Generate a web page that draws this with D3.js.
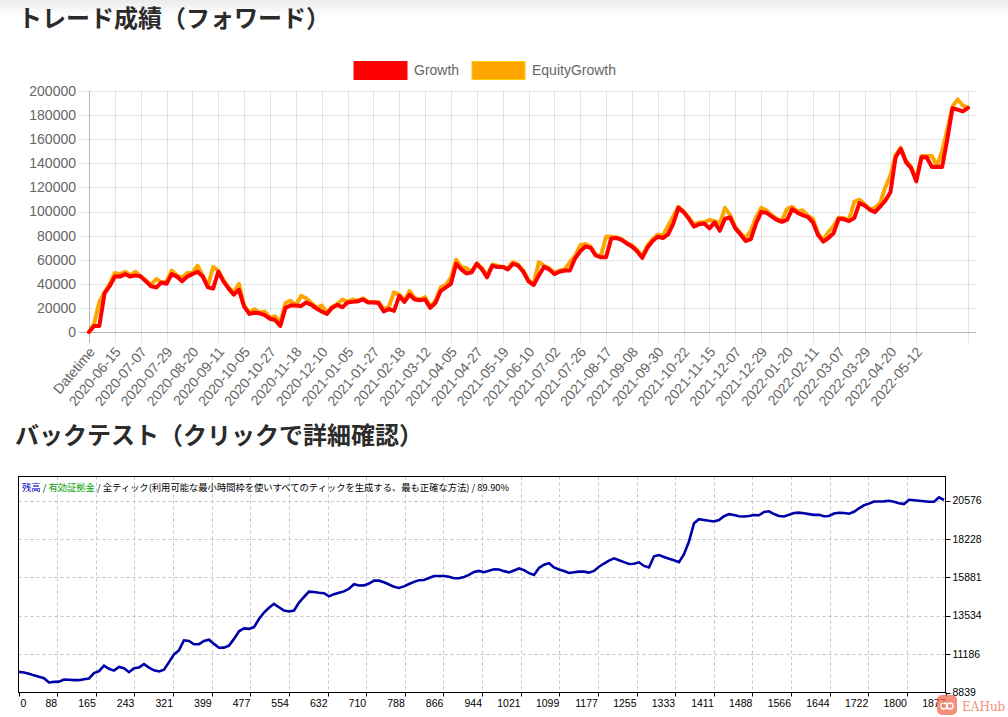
<!DOCTYPE html>
<html><head><meta charset="utf-8">
<script src="https://cdn.jsdelivr.net/npm/d3@7"></script>
<style>body{margin:0;background:#fff;overflow:hidden}svg{display:block}</style>
</head><body>
<svg id="c" width="1008" height="717"></svg>
<script>
// ---------- Forward chart data ----------
const forwardLabels = ["Datetime","2020-06-15","2020-07-07","2020-07-29","2020-08-20","2020-09-11","2020-10-05","2020-10-27","2020-11-18","2020-12-10","2021-01-05","2021-01-27","2021-02-18","2021-03-12","2021-04-05","2021-04-27","2021-05-19","2021-06-10","2021-07-02","2021-07-26","2021-08-17","2021-09-08","2021-09-30","2021-10-22","2021-11-15","2021-12-07","2021-12-29","2022-01-20","2022-02-11","2022-03-07","2022-03-29","2022-04-20","2022-05-12"];
const seriesNames = ["Growth","EquityGrowth"];
const seriesColors = ["#ff0000","#ffa500"];
const growthTicks = [0,20000,40000,60000,80000,100000,120000,140000,160000,180000,200000];
const growth = [
0,5000,5000,32000,38000,46000,46000,48000,46000,47000,
46000,42000,38000,37000,41000,40000,48000,46000,42000,46000,
48000,50000,46000,37000,36000,50000,42000,36000,31000,35000,
21000,15000,16000,15500,14000,11000,10000,5000,20000,22000,
22000,21500,24500,22500,19500,17000,15000,20000,22500,20500,
24500,25000,25500,27000,24500,24500,24000,17000,19000,17500,
30000,25000,31000,27000,26400,27000,20000,24000,34000,37000,
40000,56600,52000,48500,49500,56600,52000,45400,55000,54000,
54000,52000,56600,55000,50000,42000,39000,47000,54000,52000,
48000,50000,51000,51000,61000,67000,71000,70000,63500,62000,
62000,77700,78000,76500,73500,71000,67000,61500,70000,75500,
79000,78000,81000,90000,103000,99500,94000,87500,89500,90000,
86000,91000,84000,94000,95000,86000,81000,75500,77000,90000,
99500,99000,96000,93000,91500,93000,102000,99000,97000,95500,
91000,80500,75000,78000,82000,94000,93500,92000,94500,107000,
105000,101500,99500,104000,109000,116000,145000,152000,141000,136000,
125000,145000,145000,137000,137200,137000,160000,185700,184500,183000,
186000];
const equityGrowth = [
0,7000,25000,33000,40000,49000,48000,50000,47000,50000,
46000,43000,39000,44000,41000,42000,51000,47000,45000,49000,
49000,55000,47000,38000,54000,51000,43000,37000,33000,40000,
22000,16000,19000,16000,17000,12000,13000,8000,24000,26000,
22000,30000,28000,24000,20000,22000,16000,21000,23000,27000,
25000,27000,26000,28000,25000,25000,25000,19000,21000,33000,
31000,26000,34000,28000,27000,29000,21000,26000,37000,39000,
45000,60000,54000,53000,50000,57000,53000,47000,56000,55000,
54000,53000,58000,56000,51000,43000,40000,58000,55000,53000,
49000,51000,52000,58000,63000,72000,73000,71000,64000,63000,
79000,79000,78500,77000,74000,72000,68000,63000,72000,77000,
81000,80000,88000,96000,104000,100000,95000,89000,91000,91000,
93000,92000,90000,103000,97000,87000,82000,78000,84000,95000,
103000,101000,97000,94000,92500,102000,104000,100000,101000,96500,
94000,82000,76000,83000,88000,95000,94500,93000,108000,110000,
106000,102000,103000,107000,120000,130000,147000,153000,142000,137000,
127000,146000,146000,146000,138000,150000,168000,187000,193000,188000,
186000];

// ---------- Backtest chart data ----------
const backtestLabels = ["0","88","165","243","321","399","477","554","632","710","788","866","944","1021","1099","1177","1255","1333","1411","1488","1566","1644","1722","1800","1877"];
const backtestTicks = [8839,11186,13534,15881,18228,20576];
const balance = [
10101,10064,9991,9887,9807,9715,9452,9488,9501,9635,
9617,9593,9593,9654,9697,10021,10144,10481,10285,10174,
10401,10328,10083,10328,10371,10573,10358,10193,10125,10236,
10695,11167,11430,12031,11994,11786,11798,11994,12067,11810,
11577,11583,11706,12116,12582,12760,12729,12839,13329,13728,
14022,14261,14052,13844,13789,13850,14334,14677,15002,14983,
14934,14910,14714,14849,14934,15020,15179,15455,15382,15388,
15498,15676,15676,15578,15443,15296,15229,15326,15473,15602,
15700,15719,15841,15963,15963,15963,15915,15823,15823,15902,
16025,16209,16270,16190,16288,16374,16362,16258,16184,16301,
16423,16319,16135,16025,16454,16650,16742,16484,16362,16270,
16147,16190,16227,16227,16166,16270,16527,16723,16901,17036,
16919,16809,16692,16711,16797,16576,16484,17164,17238,17128,
17011,16919,16803,17293,18077,19180,19431,19388,19333,19296,
19382,19615,19743,19688,19615,19596,19633,19688,19676,19878,
19915,19749,19633,19602,19700,19811,19835,19792,19743,19700,
19700,19615,19627,19780,19829,19811,19768,19884,20099,20282,
20386,20515,20515,20521,20564,20503,20411,20356,20619,20589,
20564,20534,20497,20497,20773,20607];
const backtestHeader = [
  {t:"残高", c:"#0000c8"},
  {t:" / ", c:"#202020"},
  {t:"有効証拠金", c:"#00a000"},
  {t:" / 全ティック(利用可能な最小時間枠を使いすべてのティックを生成する、最も正確な方法) / 89.90%", c:"#000"}
];

// ---------- Drawing ----------
const svg = d3.select("#c");
const SANS = "'Liberation Sans', Arial, sans-serif";
const CJK = "'Noto Sans CJK JP', sans-serif";

const defs = svg.append("defs");
const grad = defs.append("linearGradient").attr("id","topband").attr("x1",0).attr("y1",0).attr("x2",0).attr("y2",1);
grad.append("stop").attr("offset","0%").attr("stop-color","#ececec");
grad.append("stop").attr("offset","100%").attr("stop-color","#ffffff");
svg.append("rect").attr("x",0).attr("y",0).attr("width",1008).attr("height",16).attr("fill","url(#topband)");

// titles
svg.append("text").attr("x",18).attr("y",27).attr("font-family",CJK).attr("font-weight","bold")
  .attr("font-size",24).attr("fill","#2b2b2b").text("トレード成績（フォワード）");
svg.append("text").attr("x",15).attr("y",444).attr("font-family",CJK).attr("font-weight","bold")
  .attr("font-size",24).attr("fill","#2b2b2b").text("バックテスト（クリックで詳細確認）");

// ---- forward chart ----
const F = {left:89, right:976, top:91, bottom:332, lastX:968};
const fx = d3.scaleLinear().domain([0, growth.length-1]).range([F.left, F.lastX]);
const fy = d3.scaleLinear().domain([0, 200000]).range([F.bottom, F.top]);
const labelEvery = 5;
const tickIdx = forwardLabels.map((d,i)=>i*labelEvery).concat([growth.length-1]);

const g1 = svg.append("g");
g1.selectAll("line.h").data(growthTicks).join("line").attr("class","h")
  .attr("x1",F.left-10).attr("x2",F.right)
  .attr("y1",d=>Math.round(fy(d))+0.5).attr("y2",d=>Math.round(fy(d))+0.5)
  .attr("stroke",d=>d===0?"rgba(0,0,0,0.28)":"rgba(0,0,0,0.1)").attr("stroke-width",1);
g1.selectAll("line.v").data(tickIdx).join("line").attr("class","v")
  .attr("x1",d=>Math.round(fx(d))+0.5).attr("x2",d=>Math.round(fx(d))+0.5)
  .attr("y1",F.top).attr("y2",F.bottom+11)
  .attr("stroke",d=>d===0?"rgba(0,0,0,0.28)":"rgba(0,0,0,0.1)").attr("stroke-width",1);
g1.selectAll("text.yl").data(growthTicks).join("text").attr("class","yl")
  .attr("x",F.left-13).attr("y",d=>fy(d)).attr("dy","0.35em").attr("text-anchor","end")
  .attr("font-family",SANS).attr("font-size",14).attr("fill","#666").text(d=>d);
g1.selectAll("text.xl").data(forwardLabels).join("text").attr("class","xl")
  .attr("transform",(d,i)=>`translate(${fx(i*labelEvery)+3},${F.bottom+17}) rotate(-50)`)
  .attr("dy","0.35em").attr("text-anchor","end")
  .attr("font-family",SANS).attr("font-size",14).attr("fill","#666").text(d=>d);

const fline = d3.line().x((d,i)=>fx(i)).y(d=>fy(d));
[equityGrowth, growth].forEach((s,k)=>{
  g1.append("path").datum(s).attr("d",fline).attr("fill","none")
    .attr("stroke", seriesColors[1-k]).attr("stroke-width",4)
    .attr("stroke-linejoin","round").attr("stroke-linecap","round");
});

const legX = [354, 472];
seriesNames.forEach((n,k)=>{
  svg.append("rect").attr("x",legX[k]).attr("y",61.5).attr("width",53).attr("height",18)
    .attr("fill",seriesColors[k]).attr("stroke",d3.color(seriesColors[k]).brighter(0.6)).attr("stroke-width",1);
  svg.append("text").attr("x",legX[k]+60).attr("y",70.5).attr("dy","0.35em")
    .attr("font-family",SANS).attr("font-size",14).attr("fill","#666").text(n);
});

// ---- backtest chart ----
const B = {left:18.5, right:945.5, top:476.5, bottom:692.5};
const bxTick = d3.scalePoint().domain(backtestLabels).range([B.left, B.right]);
const bx = d3.scaleLinear().domain([0, balance.length-1]).range([B.left+0.5, B.right-1.5]);
const by = d3.scaleLinear().domain([8839, 20576]).range([B.bottom, 500.5]);
const g2 = svg.append("g");

g2.selectAll("line.bh").data(backtestTicks.slice(1)).join("line").attr("class","bh")
  .attr("x1",B.left).attr("x2",B.right)
  .attr("y1",d=>Math.round(by(d))+0.5).attr("y2",d=>Math.round(by(d))+0.5)
  .attr("stroke","#c4c4c4").attr("stroke-dasharray","3,3");
g2.selectAll("line.bv").data(backtestLabels.slice(1,-1)).join("line").attr("class","bv")
  .attr("x1",d=>Math.round(bxTick(d))+0.5).attr("x2",d=>Math.round(bxTick(d))+0.5)
  .attr("y1",B.top).attr("y2",B.bottom)
  .attr("stroke","#c4c4c4").attr("stroke-dasharray","3,3");

const bline = d3.line().x((d,i)=>bx(i)).y(d=>by(d));
g2.append("path").datum(balance).attr("d",bline).attr("fill","none")
  .attr("stroke","#0000a8").attr("stroke-width",2.6).attr("stroke-linejoin","miter");

g2.append("rect").attr("x",B.left).attr("y",B.top).attr("width",B.right-B.left).attr("height",B.bottom-B.top)
  .attr("fill","none").attr("stroke","#000").attr("stroke-width",1);

g2.selectAll("line.ry").data(backtestTicks).join("line").attr("class","ry")
  .attr("x1",B.right).attr("x2",B.right+5)
  .attr("y1",d=>Math.round(by(d))+0.5).attr("y2",d=>Math.round(by(d))+0.5).attr("stroke","#000");
g2.selectAll("text.ry").data(backtestTicks).join("text").attr("class","ry")
  .attr("x",B.right+7).attr("y",d=>by(d)).attr("dy","0.36em")
  .attr("font-family",SANS).attr("font-size",10.5).attr("fill","#000").text(d=>d);
g2.selectAll("line.bx").data(backtestLabels).join("line").attr("class","bx")
  .attr("x1",d=>Math.round(bxTick(d))+0.5).attr("x2",d=>Math.round(bxTick(d))+0.5)
  .attr("y1",B.bottom).attr("y2",B.bottom+4).attr("stroke","#000");
g2.selectAll("text.bxl").data(backtestLabels).join("text").attr("class","bxl")
  .attr("x",(d,i)=>i===0?bxTick(d)+2:bxTick(d))
  .attr("y",B.bottom+14).attr("text-anchor",(d,i)=>i===0?"start":"end")
  .attr("font-family",SANS).attr("font-size",10.5).attr("fill","#000").text(d=>d);

const ht = g2.append("text").attr("x",22).attr("y",491).attr("font-family",CJK).attr("font-size",9.3);
backtestHeader.forEach(p=>ht.append("tspan").attr("fill",p.c).text(p.t));

// watermark
const wm = svg.append("g").attr("opacity",0.75);
wm.append("rect").attr("x",937).attr("y",695).attr("width",20).attr("height",20).attr("rx",5).attr("fill","#f26b50");
wm.append("circle").attr("cx",944).attr("cy",706).attr("r",3).attr("fill","none").attr("stroke","#fff").attr("stroke-width",1.5);
wm.append("circle").attr("cx",950).attr("cy",706).attr("r",3).attr("fill","none").attr("stroke","#fff").attr("stroke-width",1.5);
wm.append("text").attr("x",962).attr("y",711).attr("font-family","'DejaVu Serif', serif").attr("font-size",12)
  .attr("fill","#f26b50").text("EAHub");
</script>
</body></html>
